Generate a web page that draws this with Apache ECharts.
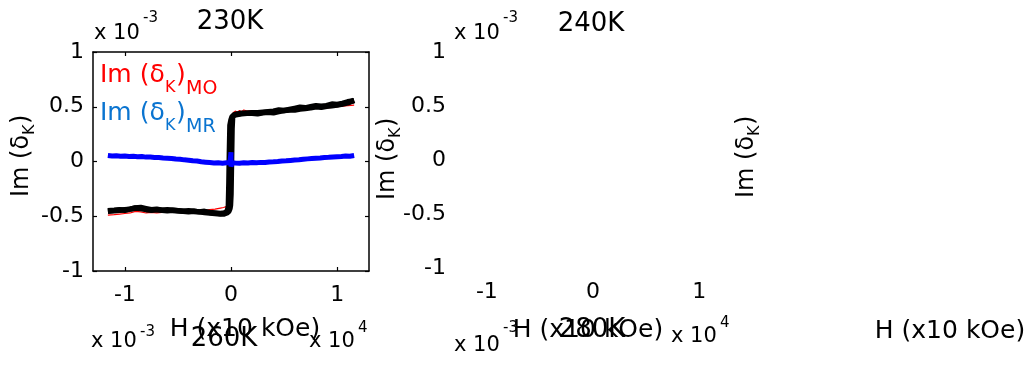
<!DOCTYPE html>
<html><head><meta charset="utf-8">
<script src="https://cdn.jsdelivr.net/npm/echarts@6/dist/echarts.min.js"></script>
<style>html,body{margin:0;padding:0;background:#fff}#c{width:1029px;height:365px}</style>
</head><body><div id="c"></div>
<script>
// ---- data (H in units of 10^4 × 10 kOe, Im(δK) in units of 10^-3) ----
const xTickValues = [-1, 0, 1];
const titles = ['230K', '240K', '260K', '280K'];

// black (total signal) – two sweep branches
const blackH1 = [-1.16,-1.1,-1.05,-1.0,-0.95,-0.9,-0.85,-0.8,-0.75,-0.7,-0.65,-0.6,-0.55,-0.5,-0.45,-0.4,-0.35,-0.3,-0.25,-0.2,-0.15,-0.1,-0.06,-0.035,-0.025,-0.02,-0.015,-0.01,0.0,0.01,0.03,0.06,0.1,0.15,0.2,0.25,0.3,0.35,0.4,0.45,0.5,0.55,0.6,0.65,0.7,0.75,0.8,0.85,0.9,0.95,1.0,1.05,1.1,1.16];
const blackV1 = [-0.455,-0.45,-0.445,-0.44,-0.435,-0.425,-0.43,-0.44,-0.445,-0.44,-0.445,-0.45,-0.445,-0.45,-0.455,-0.45,-0.455,-0.46,-0.455,-0.465,-0.47,-0.475,-0.47,-0.45,-0.41,-0.2,0.1,0.33,0.38,0.41,0.425,0.43,0.435,0.44,0.44,0.435,0.445,0.45,0.445,0.455,0.465,0.47,0.47,0.48,0.485,0.49,0.5,0.495,0.505,0.51,0.515,0.525,0.535,0.56];
const blackH2 = [1.16,1.1,1.05,1.0,0.95,0.9,0.85,0.8,0.75,0.7,0.65,0.6,0.55,0.5,0.45,0.4,0.35,0.3,0.25,0.2,0.15,0.1,0.06,0.03,0.015,0.01,0.005,0.0,-0.005,-0.01,-0.02,-0.04,-0.07,-0.1,-0.15,-0.2,-0.25,-0.3,-0.35,-0.4,-0.45,-0.5,-0.55,-0.6,-0.65,-0.7,-0.75,-0.8,-0.85,-0.9,-0.95,-1.0,-1.05,-1.1,-1.16];
const blackV2 = [0.555,0.545,0.53,0.52,0.525,0.51,0.505,0.51,0.5,0.49,0.495,0.485,0.475,0.465,0.47,0.46,0.455,0.45,0.445,0.445,0.44,0.44,0.435,0.425,0.4,0.3,0.0,-0.3,-0.4,-0.43,-0.455,-0.47,-0.48,-0.48,-0.475,-0.47,-0.465,-0.46,-0.455,-0.46,-0.455,-0.45,-0.445,-0.44,-0.445,-0.435,-0.44,-0.43,-0.42,-0.425,-0.435,-0.445,-0.44,-0.445,-0.45];

// red: Im(δK)_MO
const moH = [-1.16,-1.1,-1.05,-1.0,-0.95,-0.9,-0.85,-0.8,-0.75,-0.7,-0.65,-0.6,-0.55,-0.5,-0.45,-0.4,-0.35,-0.3,-0.25,-0.2,-0.15,-0.1,-0.07,-0.04,-0.02,-0.01,0.0,0.01,0.02,0.04,0.06,0.08,0.1,0.12,0.15,0.2,0.25,0.3,0.35,0.4,0.45,0.5,0.55,0.6,0.65,0.7,0.75,0.8,0.85,0.9,0.95,1.0,1.05,1.1,1.16];
const moV = [-0.49,-0.485,-0.48,-0.475,-0.47,-0.455,-0.46,-0.47,-0.465,-0.47,-0.465,-0.465,-0.46,-0.465,-0.46,-0.455,-0.455,-0.45,-0.445,-0.44,-0.435,-0.425,-0.42,-0.41,-0.38,-0.2,0.2,0.4,0.445,0.46,0.45,0.465,0.455,0.47,0.46,0.465,0.46,0.465,0.46,0.465,0.46,0.465,0.465,0.47,0.47,0.475,0.48,0.485,0.49,0.49,0.495,0.5,0.505,0.51,0.515];

// blue: Im(δK)_MR
const mrH = [-1.16,-1.12,-1.08,-1.04,-1.0,-0.96,-0.92,-0.88,-0.84,-0.8,-0.76,-0.72,-0.68,-0.64,-0.6,-0.56,-0.52,-0.48,-0.44,-0.4,-0.36,-0.32,-0.28,-0.24,-0.2,-0.16,-0.12,-0.08,-0.04,-0.01,0.0,0.0,0.01,0.04,0.08,0.12,0.16,0.2,0.24,0.28,0.32,0.36,0.4,0.44,0.48,0.52,0.56,0.6,0.64,0.68,0.72,0.76,0.8,0.84,0.88,0.92,0.96,1.0,1.04,1.08,1.12,1.16];
const mrV = [0.055,0.05,0.053,0.048,0.05,0.046,0.047,0.043,0.045,0.04,0.041,0.037,0.036,0.032,0.03,0.028,0.022,0.02,0.015,0.012,0.006,0.004,-0.002,-0.006,-0.01,-0.014,-0.012,-0.015,-0.012,-0.01,0.085,-0.045,-0.012,-0.014,-0.016,-0.012,-0.014,-0.01,-0.012,-0.008,-0.01,-0.005,-0.003,0.0,0.004,0.006,0.01,0.014,0.016,0.02,0.024,0.027,0.03,0.032,0.036,0.038,0.042,0.044,0.046,0.05,0.048,0.055];

const zip = (a, b) => a.map((v, i) => [v, b[i]]);
const FONT = 'DejaVu Sans';

function txt(text, x, y, size, align, color) {
  return { type: 'text', x: x, y: y, silent: true,
    style: { text: text, fontSize: size, fontFamily: FONT, fill: color || '#000',
      align: align || 'left', verticalAlign: 'middle', textAlign: align || 'left', textVerticalAlign: 'middle' } };
}
// rotated "Im (δK)" label: (cx, bottom y)
function ylab(cx, by) {
  return { type: 'group', x: cx, y: by, rotation: Math.PI / 2, silent: true,
    children: [
      txt('Im (δ', 0, 0, 24),
      txt('K', 62, 8, 16),
      txt(')', 73, 0, 24)
    ] };
}
// "x 10^e" label
function pow(left, cy, exp, supDy) {
  return [txt('x 10', left, cy, 21), txt(exp, left + 49, cy + supDy, 15)];
}

const graphics = [].concat(
  // panel 1
  pow(94, 34, '-3', -16), [txt(titles[0], 230, 22, 26, 'center')],
  [txt('H (x10 kOe)', 245, 329, 25, 'center')],
  pow(309, 342, '4', -14),
  [ylab(22, 197)],
  // legend inside panel 1
  [txt('Im (δ', 100, 75, 25, 'left', '#ff0000'), txt('K', 165, 88, 16, 'left', '#ff0000'),
   txt(')', 176, 75, 25, 'left', '#ff0000'), txt('MO', 186, 89, 19, 'left', '#ff0000')],
  [txt('Im (δ', 100, 113, 25, 'left', '#0a74d0'), txt('K', 165, 126, 16, 'left', '#0a74d0'),
   txt(')', 176, 113, 25, 'left', '#0a74d0'), txt('MR', 186, 127, 19, 'left', '#0a74d0')],
  // panel 2
  pow(454, 34, '-3', -16), [txt(titles[1], 591, 24, 26, 'center')],
  [txt('H (x10 kOe)', 588, 330, 25, 'center')],
  pow(671, 337, '4', -14),
  [ylab(388, 200)],
  // panel 3
  [ylab(747, 198)],
  [txt('H (x10 kOe)', 950, 331, 25, 'center')],
  // bottom row (cut off)
  pow(91, 342, '-3', -10), [txt(titles[2], 224, 339, 26, 'center')],
  pow(454, 346, '-3', -18), [txt(titles[3], 592, 330, 26, 'center')]
);

const axisBlack = { show: true, onZero: false, lineStyle: { color: '#000', width: 1.5 } };
const lbl = { color: '#000', fontSize: 22, fontFamily: FONT };
const tickIn = { show: true, inside: true, length: 4, lineStyle: { color: '#000', width: 1.2 } };

const option = {
  animation: false,
  backgroundColor: '#fff',
  textStyle: { fontFamily: FONT },
  grid: [
    { left: 93, top: 52, width: 276, height: 219, outerBoundsMode: 'none', containLabel: false },
    { left: 455, top: 52, width: 276, height: 216, outerBoundsMode: 'none', containLabel: false }
  ],
  xAxis: [
    { type: 'value', gridIndex: 0, position: 'bottom', min: -1.3, max: 1.3,
      axisLine: axisBlack, splitLine: { show: false },
      axisTick: Object.assign({ customValues: xTickValues }, tickIn),
      axisLabel: Object.assign({ margin: 13, customValues: xTickValues }, lbl) },
    { type: 'value', gridIndex: 0, position: 'top', min: -1.3, max: 1.3,
      axisLine: axisBlack, splitLine: { show: false },
      axisTick: Object.assign({ customValues: xTickValues }, tickIn),
      axisLabel: { show: false } },
    { type: 'value', gridIndex: 1, position: 'bottom', min: -1.3, max: 1.3,
      axisLine: { show: false, onZero: false }, splitLine: { show: false }, axisTick: { show: false },
      axisLabel: Object.assign({ margin: 13, customValues: xTickValues }, lbl) }
  ],
  yAxis: [
    { type: 'value', gridIndex: 0, position: 'left', min: -1, max: 1, interval: 0.5,
      axisLine: axisBlack, splitLine: { show: false },
      axisTick: tickIn,
      axisLabel: Object.assign({ margin: 9 }, lbl) },
    { type: 'value', gridIndex: 0, position: 'right', min: -1, max: 1, interval: 0.5,
      axisLine: axisBlack, splitLine: { show: false },
      axisTick: tickIn,
      axisLabel: { show: false } },
    { type: 'value', gridIndex: 1, position: 'left', min: -1, max: 1, interval: 0.5,
      axisLine: { show: false, onZero: false }, splitLine: { show: false }, axisTick: { show: false },
      axisLabel: Object.assign({ margin: 9 }, lbl) }
  ],
  series: [
    { name: 'MO', type: 'line', xAxisIndex: 0, yAxisIndex: 0, data: zip(moH, moV), showSymbol: false, symbol: 'none',
      lineStyle: { color: '#ff0000', width: 1.2 }, z: 2, silent: true },
    { name: 'total1', type: 'line', xAxisIndex: 0, yAxisIndex: 0, data: zip(blackH1, blackV1), showSymbol: false, symbol: 'none',
      lineStyle: { color: '#000', width: 5.5 }, z: 3, silent: true },
    { name: 'total2', type: 'line', xAxisIndex: 0, yAxisIndex: 0, data: zip(blackH2, blackV2), showSymbol: false, symbol: 'none',
      lineStyle: { color: '#000', width: 5.5 }, z: 3, silent: true },
    { name: 'MR', type: 'line', xAxisIndex: 0, yAxisIndex: 0, data: zip(mrH, mrV), showSymbol: false, symbol: 'none',
      lineStyle: { color: '#0000ff', width: 5 }, z: 4, silent: true }
  ],
  graphic: { elements: graphics }
};
const chart = echarts.init(document.getElementById('c'), null, { renderer: 'canvas' });
chart.setOption(option);
</script>
</body></html>
